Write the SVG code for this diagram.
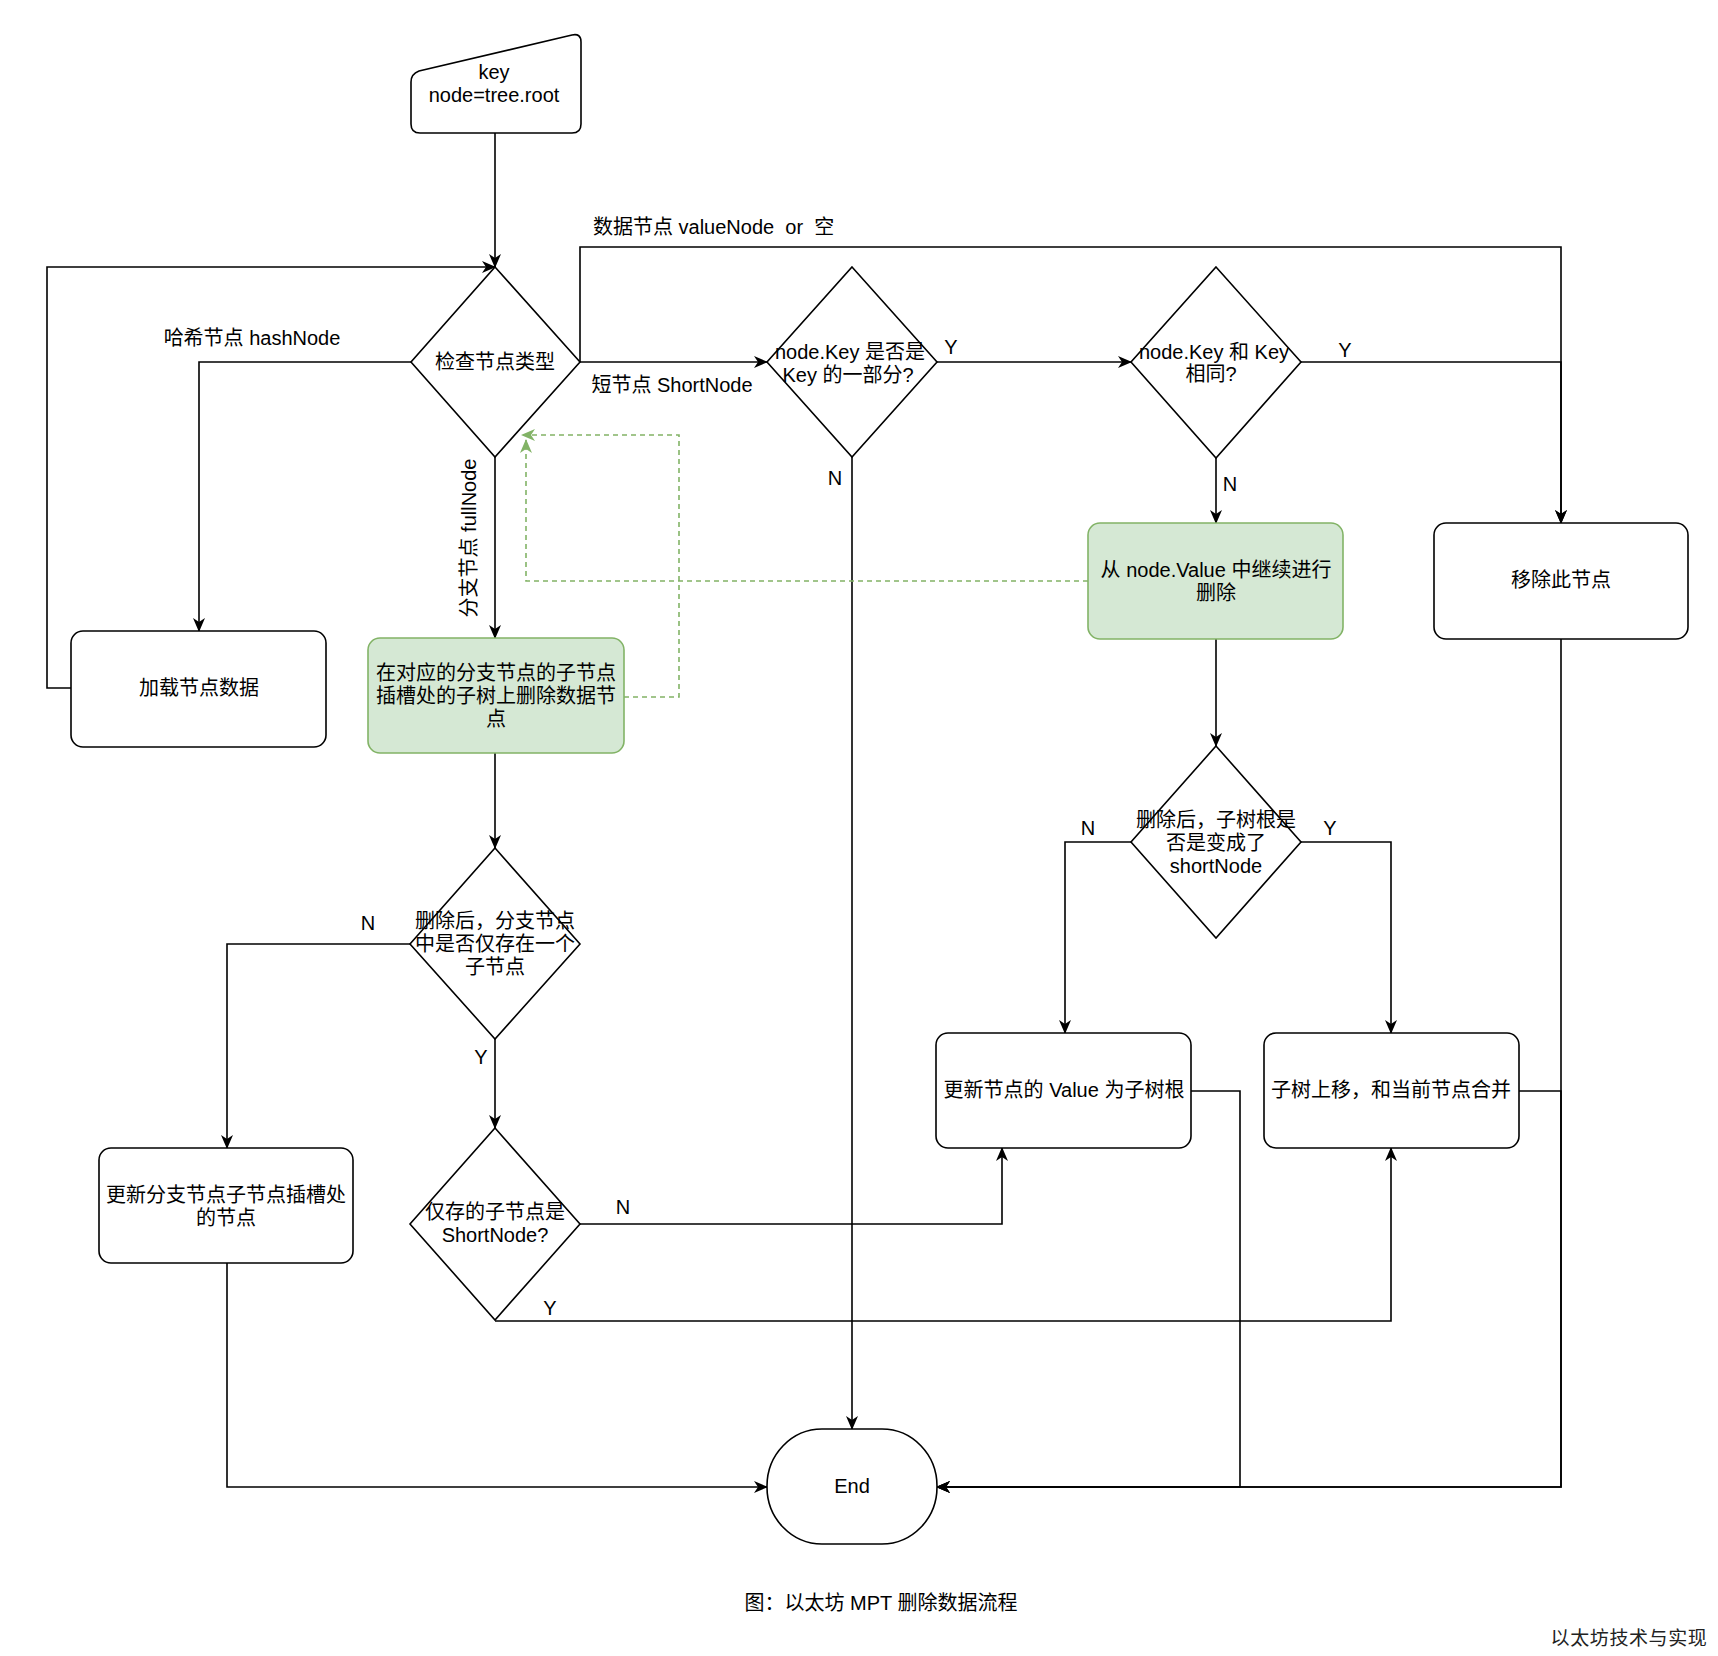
<svg xmlns="http://www.w3.org/2000/svg" width="1718" height="1656" viewBox="0 0 1718 1656">
<style>
  .shape { fill: #ffffff; stroke: #000000; stroke-width: 1.6; }
  .green { fill: #d5e8d4; stroke: #82b366; stroke-width: 1.6; }
  .edge { fill: none; stroke: #000000; stroke-width: 1.6; }
  .dash { fill: none; stroke: #82b366; stroke-width: 1.6; stroke-dasharray: 5 4; }
  .t { font-family: "Liberation Sans", "Noto Sans CJK SC", sans-serif; font-size: 20px; fill: #000000; text-anchor: middle; dominant-baseline: central; }
  .ts { text-anchor: start; }
  .wm { font-family: "Liberation Serif", "Noto Sans CJK SC", serif; font-size: 19px; fill: #222222; text-anchor: middle; dominant-baseline: central; letter-spacing: 0.6px; }
</style>
<defs>
  <marker id="arr" viewBox="0 0 14 12" markerWidth="14" markerHeight="12" refX="13" refY="6" orient="auto" markerUnits="userSpaceOnUse">
    <path d="M0,0 L14,6 L0,12 L4,6 z" fill="#000000"/>
  </marker>
  <marker id="garr" viewBox="0 0 14 12" markerWidth="14" markerHeight="12" refX="13" refY="6" orient="auto" markerUnits="userSpaceOnUse">
    <path d="M0,0 L14,6 L0,12 L4,6 z" fill="#82b366"/>
  </marker>
</defs>
<rect width="1718" height="1656" fill="#ffffff"/>

<g id="connectors">
  <path class="edge" d="M495,133 L495,267" marker-end="url(#arr)"/>
  <path class="edge" d="M411,362 L199,362 L199,631" marker-end="url(#arr)"/>
  <path class="edge" d="M71,688 L47,688 L47,267 L495,267" marker-end="url(#arr)"/>
  <path class="edge" d="M580,362 L580,247 L1561,247 L1561,523" marker-end="url(#arr)"/>
  <path class="edge" d="M580,362 L767,362" marker-end="url(#arr)"/>
  <path class="edge" d="M495,457 L495,638" marker-end="url(#arr)"/>
  <path class="edge" d="M937,362 L1131,362" marker-end="url(#arr)"/>
  <path class="edge" d="M852,457 L852,1429" marker-end="url(#arr)"/>
  <path class="edge" d="M1301,362 L1561,362 L1561,523" marker-end="url(#arr)"/>
  <path class="edge" d="M1216,458 L1216,523" marker-end="url(#arr)"/>
  <path class="edge" d="M1216,639 L1216,746" marker-end="url(#arr)"/>
  <path class="edge" d="M1131,842 L1065,842 L1065,1033" marker-end="url(#arr)"/>
  <path class="edge" d="M1301,842 L1391,842 L1391,1033" marker-end="url(#arr)"/>
  <path class="edge" d="M1561,639 L1561,1487 L937,1487" marker-end="url(#arr)"/>
  <path class="edge" d="M1519,1091 L1561,1091 L1561,1487 L937,1487" marker-end="url(#arr)"/>
  <path class="edge" d="M1191,1091 L1240,1091 L1240,1487 L937,1487" marker-end="url(#arr)"/>
  <path class="edge" d="M495,753 L495,848" marker-end="url(#arr)"/>
  <path class="edge" d="M410,944 L227,944 L227,1148" marker-end="url(#arr)"/>
  <path class="edge" d="M495,1039 L495,1128" marker-end="url(#arr)"/>
  <path class="edge" d="M580,1224 L1002,1224 L1002,1148" marker-end="url(#arr)"/>
  <path class="edge" d="M495,1321 L1391,1321 L1391,1148" marker-end="url(#arr)"/>
  <path class="edge" d="M227,1263 L227,1487 L767,1487" marker-end="url(#arr)"/>
  <path class="dash" d="M624,697 L679,697 L679,435 L522,435" marker-end="url(#garr)"/>
  <path class="dash" d="M1088,581 L526,581 L526,440" marker-end="url(#garr)"/>

  <text class="t" x="252" y="338">哈希节点 hashNode</text>
  <text class="t ts" x="593" y="227" xml:space="preserve">数据节点 valueNode  or  空</text>
  <text class="t" x="672" y="385">短节点 ShortNode</text>
  <text class="t" transform="translate(469,538) rotate(-90)">分支节点 fullNode</text>
  <text class="t" x="951" y="347">Y</text>
  <text class="t" x="1345" y="350">Y</text>
  <text class="t" x="835" y="478">N</text>
  <text class="t" x="1230" y="484">N</text>
  <text class="t" x="1088" y="828">N</text>
  <text class="t" x="1330" y="828">Y</text>
  <text class="t" x="368" y="923">N</text>
  <text class="t" x="481" y="1057">Y</text>
  <text class="t" x="623" y="1207">N</text>
  <text class="t" x="550" y="1308">Y</text>
</g>

<g id="start">
  <path class="shape" d="M411,82 Q411,74 419,71 L572,35 Q581,33 581,42 L581,124 Q581,133 572,133 L420,133 Q411,133 411,124 Z"/>
  <text class="t" x="494" y="72">key</text>
  <text class="t" x="494" y="95">node=tree.root</text>
</g>

<g id="check-type">
  <path class="shape" d="M495,267 L580,362 L495,457 L411,362 Z"/>
  <text class="t" x="495" y="362">检查节点类型</text>
</g>

<g id="key-part">
  <path class="shape" d="M852,267 L937,362 L852,457 L767,362 Z"/>
  <text class="t" x="850" y="352">node.Key 是否是</text>
  <text class="t" x="848" y="375">Key 的一部分?</text>
</g>

<g id="key-same">
  <path class="shape" d="M1216,267 L1301,362 L1216,458 L1131,362 Z"/>
  <text class="t" x="1214" y="352">node.Key 和 Key</text>
  <text class="t" x="1211" y="374">相同?</text>
</g>

<g id="load-node">
  <rect class="shape" x="71" y="631" width="255" height="116" rx="12" ry="12"/>
  <text class="t" x="199" y="688">加载节点数据</text>
</g>

<g id="branch-delete">
  <rect class="green" x="368" y="638" width="256" height="115" rx="12" ry="12"/>
  <text class="t" x="496" y="673">在对应的分支节点的子节点</text>
  <text class="t" x="496" y="696">插槽处的子树上删除数据节</text>
  <text class="t" x="496" y="719">点</text>
</g>

<g id="value-delete">
  <rect class="green" x="1088" y="523" width="255" height="116" rx="12" ry="12"/>
  <text class="t" x="1216" y="570">从 node.Value 中继续进行</text>
  <text class="t" x="1216" y="593">删除</text>
</g>

<g id="remove-node">
  <rect class="shape" x="1434" y="523" width="254" height="116" rx="12" ry="12"/>
  <text class="t" x="1561" y="580">移除此节点</text>
</g>

<g id="subtree-short">
  <path class="shape" d="M1216,746 L1301,842 L1216,938 L1131,842 Z"/>
  <text class="t" x="1216" y="820">删除后，子树根是</text>
  <text class="t" x="1216" y="843">否是变成了</text>
  <text class="t" x="1216" y="866">shortNode</text>
</g>

<g id="only-one-child">
  <path class="shape" d="M495,848 L580,944 L495,1039 L410,944 Z"/>
  <text class="t" x="495" y="921">删除后，分支节点</text>
  <text class="t" x="495" y="944">中是否仅存在一个</text>
  <text class="t" x="495" y="967">子节点</text>
</g>

<g id="update-branch">
  <rect class="shape" x="99" y="1148" width="254" height="115" rx="12" ry="12"/>
  <text class="t" x="226" y="1195">更新分支节点子节点插槽处</text>
  <text class="t" x="226" y="1218">的节点</text>
</g>

<g id="child-short">
  <path class="shape" d="M495,1128 L580,1224 L495,1320 L410,1224 Z"/>
  <text class="t" x="495" y="1212">仅存的子节点是</text>
  <text class="t" x="495" y="1235">ShortNode?</text>
</g>

<g id="update-value">
  <rect class="shape" x="936" y="1033" width="255" height="115" rx="12" ry="12"/>
  <text class="t" x="1064" y="1090">更新节点的 Value 为子树根</text>
</g>

<g id="merge-subtree">
  <rect class="shape" x="1264" y="1033" width="255" height="115" rx="12" ry="12"/>
  <text class="t" x="1391" y="1090">子树上移，和当前节点合并</text>
</g>

<g id="end">
  <rect class="shape" x="767" y="1429" width="170" height="115" rx="55" ry="57"/>
  <text class="t" x="852" y="1486">End</text>
</g>

<g id="caption">
  <text class="t" x="881" y="1603">图：以太坊 MPT 删除数据流程</text>
  <text class="wm" x="1629" y="1638">以太坊技术与实现</text>
</g>
</svg>
